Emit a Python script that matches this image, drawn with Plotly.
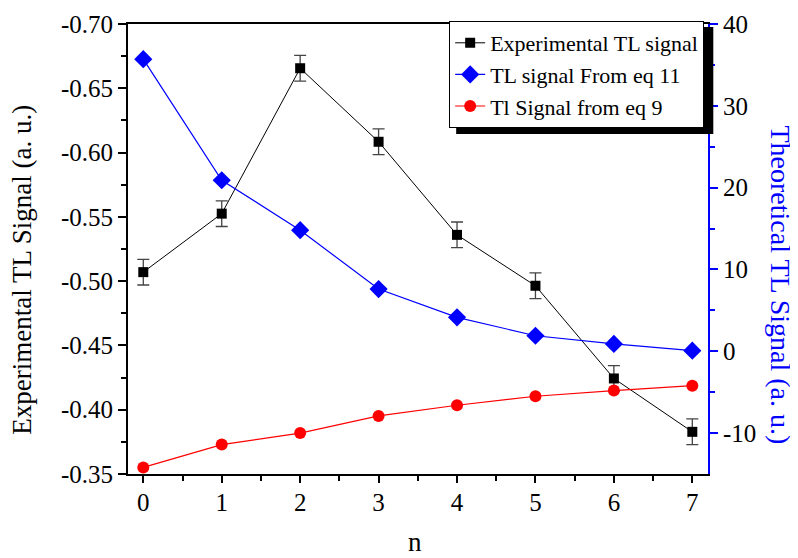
import plotly.graph_objects as go

n_vals = [0, 1, 2, 3, 4, 5, 6, 7]
exp_signal = [-0.507, -0.5525, -0.6656, -0.6084, -0.536, -0.4964, -0.4243, -0.3828]
exp_err = [0.01, 0.01, 0.01, 0.01, 0.01, 0.01, 0.01, 0.01]
eq11_signal = [35.7, 20.9, 14.8, 7.6, 4.15, 1.9, 0.9, 0.07]
eq9_signal = [-14.2, -11.4, -10.0, -7.9, -6.6, -5.5, -4.8, -4.2]

left_ticks = [-0.70, -0.65, -0.60, -0.55, -0.50, -0.45, -0.40, -0.35]
left_ticktext = ["-0.70", "-0.65", "-0.60", "-0.55", "-0.50", "-0.45", "-0.40", "-0.35"]
right_ticks = [40, 30, 20, 10, 0, -10]
right_ticktext = ["40", "30", "20", "10", "0", "-10"]

FONT = "Liberation Serif"

fig = go.Figure()
fig.add_trace(go.Scatter(
    x=n_vals, y=exp_signal, name="Experimental TL signal", mode="lines+markers",
    line=dict(color="black", width=1),
    marker=dict(symbol="square", size=10, color="black"),
    error_y=dict(type="data", array=exp_err, color="#444444", thickness=1.3, width=6),
    yaxis="y"))
fig.add_trace(go.Scatter(
    x=n_vals, y=eq11_signal, name="TL signal From eq 11", mode="lines+markers",
    line=dict(color="blue", width=1.2),
    marker=dict(symbol="diamond", size=14, color="blue"),
    yaxis="y2"))
fig.add_trace(go.Scatter(
    x=n_vals, y=eq9_signal, name="Tl Signal from eq 9", mode="lines+markers",
    line=dict(color="red", width=1.2),
    marker=dict(symbol="circle", size=12, color="red"),
    yaxis="y2"))

# page body has an 8px margin; figure coordinates are offset accordingly
OFF = 8
W, H = 798 - OFF, 558 - OFF
PL, PT, PR, PB = 128, 24, 707.7, 474.3  # plot area in page pixels
L, T = PL - OFF, PT - OFF
R, B = W - (PR - OFF), H - (PB - OFF)
pw, ph = PR - PL, PB - PT

def px(x):
    return (x - PL) / pw

def py(y):
    return (PB - y) / ph

LEG_L, LEG_T, LEG_R, LEG_B = 449, 21, 706, 128

fig.update_layout(
    width=W, height=H,
    margin=dict(l=L, r=R, t=T, b=B, autoexpand=False),
    paper_bgcolor="white", plot_bgcolor="white",
    font=dict(family=FONT, size=25, color="black"),
    showlegend=True,
    legend=dict(x=px(LEG_L), y=py(LEG_T), xanchor="left", yanchor="top",
                bgcolor="white", bordercolor="black", borderwidth=1,
                font=dict(family=FONT, size=22), tracegroupgap=0),
    xaxis=dict(range=[-0.195, 7.2], tickvals=n_vals, ticktext=[str(v) for v in n_vals],
               showgrid=False, zeroline=False, showline=True, linecolor="black", linewidth=2,
               mirror=True, ticks="outside", ticklen=7, tickwidth=2, tickcolor="black",
               ticklabelstandoff=-2,
               minor=dict(tickvals=[0.5, 1.5, 2.5, 3.5, 4.5, 5.5, 6.5], ticks="outside",
                          ticklen=5, tickwidth=2, tickcolor="black"),
               tickfont=dict(family=FONT, size=25)),
    yaxis=dict(range=[-0.35, -0.70], tickvals=left_ticks, ticktext=left_ticktext,
               showgrid=False, zeroline=False, showline=True, linecolor="black", linewidth=2,
               ticks="outside", ticklen=8, tickwidth=2, tickcolor="black",
               minor=dict(tickvals=[-0.675, -0.625, -0.575, -0.525, -0.475, -0.425, -0.375],
                          ticks="outside", ticklen=5, tickwidth=2, tickcolor="black"),
               tickfont=dict(family=FONT, size=25)),
    yaxis2=dict(range=[-15, 40], overlaying="y", side="right",
                tickvals=right_ticks, ticktext=right_ticktext,
                showgrid=False, zeroline=False, showline=True, linecolor="blue", linewidth=2,
                ticks="outside", ticklen=8, tickwidth=2, tickcolor="blue",
                minor=dict(tickvals=[35, 25, 15, 5, -5], ticks="outside",
                           ticklen=5, tickwidth=2, tickcolor="blue"),
                tickfont=dict(family=FONT, size=25, color="black")),
    shapes=[dict(type="rect", xref="paper", yref="paper",
                 x0=px(LEG_L + 7), x1=px(LEG_R + 7), y0=py(LEG_B + 6), y1=py(LEG_T + 6),
                 fillcolor="black", line=dict(width=0), layer="above")],
    annotations=[
        dict(text="Experimental TL Signal (a. u.)", textangle=-90, xref="paper", yref="paper",
             x=px(22), y=py(270), showarrow=False, xanchor="center", yanchor="middle",
             font=dict(family=FONT, size=27, color="black")),
        dict(text="Theoretical TL Signal (a. u.)", textangle=90, xref="paper", yref="paper",
             x=px(780), y=py(285), showarrow=False, xanchor="center", yanchor="middle",
             font=dict(family=FONT, size=28, color="blue")),
        dict(text="n", xref="paper", yref="paper", x=px(415), y=py(542), showarrow=False,
             xanchor="center", yanchor="middle", font=dict(family=FONT, size=27, color="black")),
    ],
)

fig.write_html("out.html")
